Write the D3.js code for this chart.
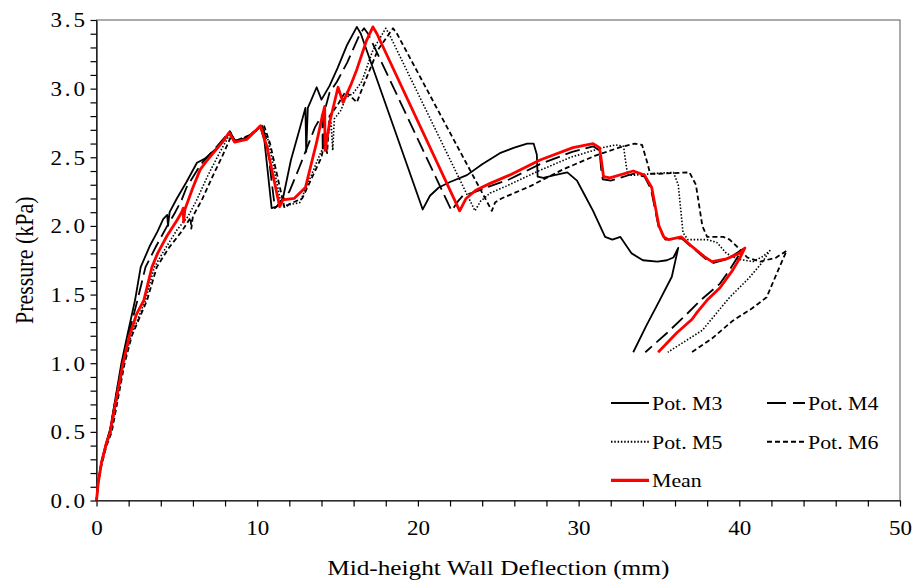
<!DOCTYPE html>
<head>
  <meta charset="utf-8">
  <style>
    body { margin: 0; background: #fff; }
    text { font-family: "Liberation Serif", "Times New Roman", serif; fill: #000; }
  </style>
</head>
<body>
<script src="https://cdnjs.cloudflare.com/ajax/libs/d3/7.8.5/d3.min.js"></script>
<script>

// values: [deflection (mm), pressure (kPa)]
var potM3 = [
  [0,0],[0.1,0.13],[0.3,0.28],[0.6,0.42],[0.85,0.52],[1.2,0.76],[1.55,1.0],[1.95,1.22],[2.4,1.46],[2.75,1.7],
  [3.3,1.85],[3.8,1.96],[4.15,2.05],[4.4,2.08],[4.45,2.0],[4.55,2.1],[5.0,2.2],[5.6,2.32],[6.25,2.46],[6.75,2.49],
  [7.7,2.59],[8.3,2.68],[8.6,2.62],[9.4,2.64],[10.2,2.72],[10.45,2.62],[10.9,2.13],[11.2,2.14],[11.6,2.2],[12.1,2.48],
  [12.65,2.71],[13.0,2.86],[13.05,2.54],[13.15,2.86],[13.3,2.9],[13.7,3.01],[14.0,2.92],[14.5,3.02],[15.0,3.15],[15.6,3.32],
  [16.2,3.45],[16.45,3.4],[20.3,2.12],[20.75,2.22],[21.3,2.28],[22.0,2.32],[23.05,2.37],[24.0,2.45],[25.1,2.53],[26.0,2.57],
  [26.8,2.6],[27.2,2.6],[27.4,2.52],[27.45,2.36],[27.8,2.35],[28.5,2.37],[29.3,2.39],[29.9,2.33],[30.4,2.22],[30.9,2.11],
  [31.65,1.92],[32.1,1.9],[32.6,1.92],[33.3,1.8],[34.0,1.75],[34.9,1.74],[35.5,1.75],[35.9,1.77],[36.2,1.84],[35.8,1.63],
  [35.05,1.46],[34.2,1.27],[33.4,1.08]
];

var potM4 = [
  [0,0],[0.1,0.13],[0.3,0.27],[0.6,0.41],[0.85,0.51],[1.2,0.75],[1.6,1.0],[2.0,1.21],[2.55,1.46],[3.05,1.7],
  [3.7,1.85],[4.4,2.0],[4.9,2.1],[5.3,2.19],[5.6,2.28],[6.5,2.45],[7.5,2.58],[8.3,2.69],[8.6,2.62],[9.4,2.65],
  [10.3,2.73],[10.6,2.62],[11.1,2.13],[11.4,2.16],[12.0,2.25],[12.6,2.42],[13.2,2.6],[13.6,2.72],[14.05,2.81],[14.08,2.54],
  [14.15,2.82],[14.5,2.97],[14.96,3.05],[15.6,3.19],[16.4,3.4],[16.65,3.44],[16.9,3.4],[22.1,2.11],[22.5,2.18],[22.8,2.22],
  [23.6,2.25],[24.5,2.29],[25.7,2.34],[27.6,2.45],[29.6,2.54],[30.9,2.58],[31.3,2.55],[31.4,2.42],[31.5,2.34],[32.0,2.33],
  [33.4,2.38],[34.1,2.36],[34.5,2.27],[35.0,1.98],[35.4,1.9],[36.4,1.91],[37.0,1.85],[37.9,1.76],[38.4,1.73],[39.3,1.76],
  [40.2,1.83],[39.4,1.68],[38.8,1.58],[37.6,1.46],[36.75,1.36],[35.5,1.22],[34.15,1.08]
];

var potM5 = [
  [0,0],[0.1,0.12],[0.3,0.26],[0.6,0.4],[0.9,0.5],[1.3,0.75],[1.7,1.0],[2.15,1.2],[3.05,1.46],[3.6,1.7],
  [4.2,1.82],[5.0,1.97],[5.7,2.07],[6.2,2.18],[6.9,2.36],[7.6,2.52],[8.35,2.68],[8.6,2.62],[9.4,2.64],[10.3,2.73],
  [10.7,2.62],[11.5,2.15],[11.8,2.15],[12.65,2.17],[13.3,2.35],[13.9,2.52],[14.3,2.62],[14.6,2.75],[14.7,2.55],[14.8,2.78],
  [15.2,2.84],[15.5,2.93],[16.0,2.97],[16.5,3.05],[17.2,3.28],[18.0,3.44],[18.2,3.4],[23.55,2.11],[23.9,2.18],[24.5,2.24],
  [25.5,2.29],[27.5,2.4],[29.5,2.5],[31.5,2.57],[32.3,2.59],[32.8,2.58],[32.95,2.45],[33.05,2.37],[33.5,2.37],[34.5,2.38],
  [35.9,2.39],[36.2,2.3],[36.5,1.95],[36.8,1.9],[38.0,1.9],[38.6,1.88],[39.2,1.8],[39.85,1.76],[40.85,1.74],[41.5,1.78],
  [41.9,1.82],[41.4,1.73],[40.6,1.62],[39.4,1.48],[37.7,1.24],[35.55,1.08]
];

var potM6 = [
  [0,0],[0.1,0.12],[0.3,0.25],[0.6,0.39],[0.95,0.5],[1.35,0.75],[1.75,1.0],[2.2,1.2],[3.15,1.46],[3.75,1.7],
  [4.5,1.84],[5.3,1.96],[5.85,2.06],[5.9,1.98],[6.0,2.07],[6.6,2.2],[7.3,2.38],[7.8,2.5],[8.4,2.66],[8.65,2.62],
  [9.5,2.66],[10.4,2.74],[10.8,2.6],[11.7,2.13],[12.0,2.16],[12.8,2.2],[13.4,2.35],[14.0,2.5],[14.2,2.62],[14.35,2.53],
  [14.5,2.8],[15.0,2.88],[15.5,2.98],[16.2,2.9],[16.6,3.02],[17.5,3.28],[18.45,3.44],[18.7,3.4],[24.6,2.11],[24.8,2.17],
  [25.2,2.2],[26.0,2.24],[27.0,2.29],[29.0,2.41],[31.0,2.51],[32.5,2.57],[33.5,2.6],[33.95,2.59],[34.3,2.45],[34.45,2.38],
  [35.0,2.38],[36.9,2.39],[37.3,2.3],[37.7,2.0],[38.0,1.92],[39.0,1.92],[39.4,1.9],[39.85,1.85],[40.5,1.77],[41.3,1.74],
  [42.3,1.77],[42.95,1.82],[42.5,1.7],[41.7,1.48],[40.8,1.4],[39.6,1.31],[38.3,1.18],[37.05,1.08]
];

var meanCurve = [
  [0,0],[0.1,0.12],[0.3,0.27],[0.6,0.41],[0.85,0.5],[1.25,0.75],[1.65,1.0],[2.05,1.2],[2.5,1.36],[2.95,1.46],
  [3.45,1.7],[3.8,1.8],[4.4,1.93],[5.0,2.04],[5.3,2.1],[5.4,2.13],[5.42,2.03],[5.5,2.12],[6.0,2.28],[6.45,2.41],
  [6.9,2.48],[7.9,2.62],[8.25,2.68],[8.6,2.61],[9.35,2.63],[10.2,2.73],[10.6,2.58],[11.4,2.14],[11.6,2.19],[12.3,2.2],
  [13.0,2.28],[13.7,2.61],[14.05,2.8],[14.2,2.87],[14.22,2.55],[14.5,2.75],[15.03,3.01],[15.34,2.9],[15.8,3.02],[16.2,3.14],
  [16.8,3.35],[17.2,3.45],[17.45,3.4],[22.6,2.11],[23.0,2.2],[23.6,2.26],[24.5,2.31],[25.7,2.37],[27.6,2.48],[29.65,2.57],
  [30.9,2.6],[31.3,2.57],[31.45,2.45],[31.55,2.36],[31.95,2.35],[33.4,2.4],[34.1,2.37],[34.55,2.28],[35.0,2.0],[35.3,1.92],
  [35.6,1.9],[36.4,1.92],[36.95,1.86],[37.9,1.77],[38.3,1.74],[39.2,1.76],[40.0,1.8],[40.35,1.84],[40.05,1.77],[39.6,1.68],
  [38.8,1.55],[38.0,1.46],[37.37,1.37],[37.06,1.32],[36.1,1.22],[34.95,1.08]
];

var seriesNames = ["Pot. M3", "Pot. M4", "Pot. M5", "Pot. M6", "Mean"];
var seriesData = [potM3, potM4, potM5, potM6, meanCurve];

var xTicks = [0, 10, 20, 30, 40, 50];
var yTicks = [0, 0.5, 1.0, 1.5, 2.0, 2.5, 3.0, 3.5];

// line looks, by series index
var seriesStyle = [
  { color: "#000", width: 1.8, dash: null },
  { color: "#000", width: 1.8, dash: "15,6" },
  { color: "#000", width: 1.6, dash: "1.5,1.8" },
  { color: "#000", width: 1.8, dash: "5,3" },
  { color: "#ff0000", width: 2.8, dash: null }
];

var stretch = "scale(1.15,1)";   // reference text is a bit wide

var svg = d3.select("body").append("svg")
    .attr("width", 912)
    .attr("height", 580);

var x = d3.scaleLinear()
    .domain([0, 50])
    .range([96.5, 900]);

var y = d3.scaleLinear()
    .domain([0, 3.5])
    .range([500.5, 20]);

// plot frame (top + right)
svg.append("rect")
    .attr("x", x(0))
    .attr("y", y(3.5))
    .attr("width", x(50) - x(0))
    .attr("height", y(0) - y(3.5))
    .attr("fill", "none")
    .attr("stroke", "#595959")
    .attr("stroke-width", 1);

var xAxis = d3.axisBottom(x)
    .tickValues(d3.range(0, 51, 2))
    .tickSizeInner(6)
    .tickSizeOuter(0)
    .tickPadding(14)
    .tickFormat(function(d) { return xTicks.indexOf(d) >= 0 ? d : ""; });

var yAxis = d3.axisLeft(y)
    .tickValues(d3.range(0, 36).map(function(i) { return i / 10; }))
    .tickSizeInner(6)
    .tickSizeOuter(0)
    .tickFormat(function(d) {
      return yTicks.indexOf(d) >= 0 ? d3.format(".1f")(d) : "";
    });

var gx = svg.append("g")
    .attr("transform", "translate(0," + y(0) + ")")
    .call(xAxis)
    .attr("font-family", null)
    .attr("font-size", null);

gx.selectAll("text")
    .style("font-size", "20px")
    .attr("transform", stretch);

var gy = svg.append("g")
    .attr("transform", "translate(" + x(0) + ",0)")
    .call(yAxis)
    .attr("font-family", null)
    .attr("font-size", null);

gy.selectAll("text")
    .style("font-size", "20px")
    .style("letter-spacing", "2.5px")
    .attr("x", -7.5)
    .attr("dy", "0.34em")
    .attr("transform", stretch);

svg.selectAll(".domain, .tick line")
    .attr("stroke", "#000")
    .attr("stroke-width", 1.2);

// axis titles
svg.append("text")
    .attr("transform", "translate(" + ((x(0) + x(50)) / 2) + ",575) " + stretch)
    .attr("text-anchor", "middle")
    .style("font-size", "22px")
    .text("Mid-height Wall Deflection (mm)");

svg.append("text")
    .attr("transform", "translate(33," + ((y(0) + y(3.5)) / 2) + ") " + stretch + " rotate(-90)")
    .attr("text-anchor", "middle")
    .style("font-size", "22px")
    .text("Pressure (kPa)");

// curves
var line = d3.line()
    .x(function(d) { return x(d[0]); })
    .y(function(d) { return y(d[1]); });

svg.selectAll(".curve")
    .data(seriesData)
    .enter()
  .append("path")
    .attr("class", "curve")
    .attr("d", line)
    .attr("fill", "none")
    .attr("stroke", function(d, i) { return seriesStyle[i].color; })
    .attr("stroke-width", function(d, i) { return seriesStyle[i].width; })
    .attr("stroke-dasharray", function(d, i) { return seriesStyle[i].dash; })
    .attr("stroke-linejoin", "round");

// legend, two columns
var legend = svg.selectAll(".legend")
    .data(seriesNames)
    .enter()
  .append("g")
    .attr("class", "legend")
    .attr("transform", function(d, i) {
      return "translate(" + (611 + (i % 2) * 156) + "," + (403 + Math.floor(i / 2) * 38.7) + ")";
    });

legend.append("line")
    .attr("x1", 0)
    .attr("x2", 38)
    .attr("y1", 0)
    .attr("y2", 0)
    .attr("stroke", function(d, i) { return seriesStyle[i].color; })
    .attr("stroke-width", function(d, i) { return seriesStyle[i].width + 0.3; })
    .attr("stroke-dasharray", function(d, i) { return i == 1 ? "19,7" : seriesStyle[i].dash; });

legend.append("text")
    .attr("transform", "translate(41,7) " + stretch)
    .style("font-size", "19px")
    .text(function(d) { return d; });

</script>
</body>
